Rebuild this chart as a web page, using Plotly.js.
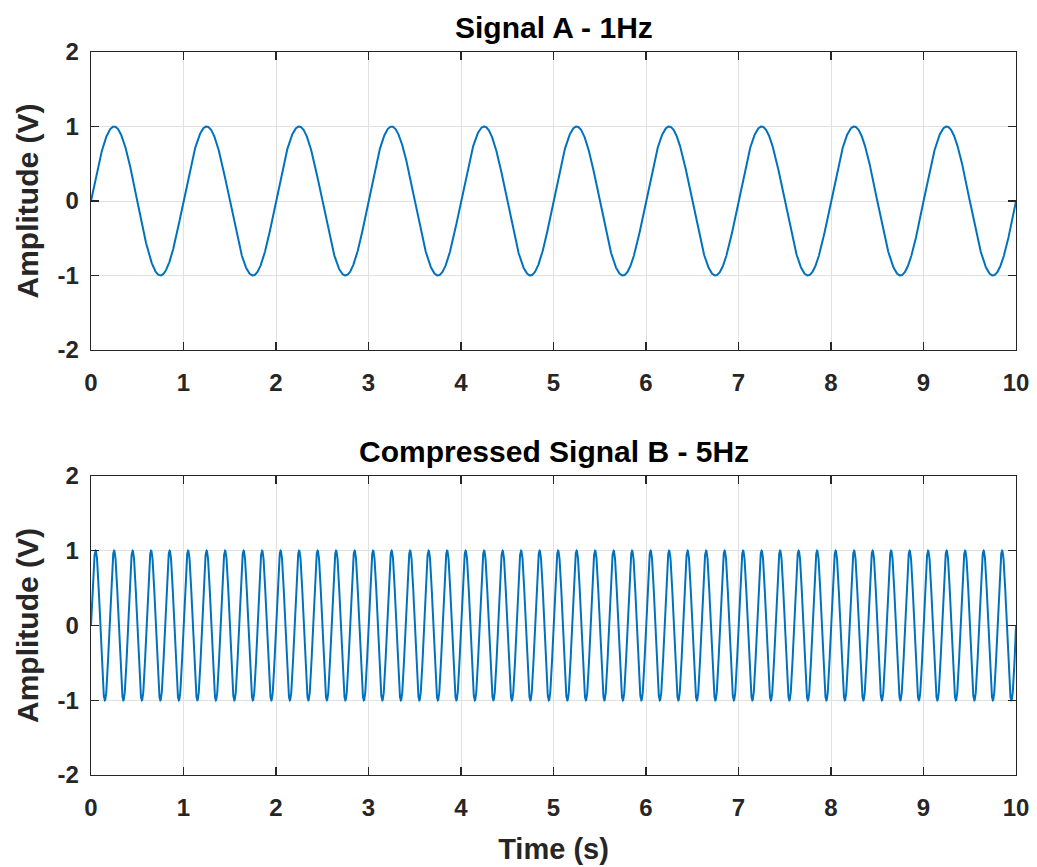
<!DOCTYPE html>
<html>
<head>
<meta charset="utf-8">
<script src="https://cdn.plot.ly/plotly-3.0.1.min.js"></script>
<style>
  html, body { margin: 0; padding: 0; background: #fff; }
  #chart { width: 1037px; height: 867px; }
</style>
</head>
<body>
<div id="chart"></div>
<script>
// Two sine signals sampled over the same time window
const signalTitles = ['Signal A - 1Hz', 'Compressed Signal B - 5Hz'];
const frequenciesHz = [1, 5];
const amplitudesV = [1, 1];
const timeRange = [0, 10];
const sampleStep = 0.002;
const xTickValues = [0, 1, 2, 3, 4, 5, 6, 7, 8, 9, 10];
const yTickValues = [-2, -1, 0, 1, 2];
const yRange = [-2, 2];

const time = [];
for (let t = timeRange[0]; t <= timeRange[1] + 1e-9; t += sampleStep) {
  time.push(+t.toFixed(6));
}

const lineColor = '#0072BD';
const inkColor = '#262626';
const fontFamily = '"Liberation Sans", Arial, Helvetica, sans-serif';

const traces = frequenciesHz.map((f, i) => ({
  type: 'scatter',
  mode: 'lines',
  x: time,
  y: time.map(t => amplitudesV[i] * Math.sin(2 * Math.PI * f * t)),
  line: { color: lineColor, width: 2 },
  xaxis: i === 0 ? 'x' : 'x2',
  yaxis: i === 0 ? 'y' : 'y2',
  hoverinfo: 'skip',
  showlegend: false
}));

function xAxis(domainAnchor, withTitle) {
  const ax = {
    anchor: domainAnchor,
    domain: [0, 1],
    range: timeRange,
    tickvals: xTickValues,
    ticktext: xTickValues.map(String),
    ticks: 'inside',
    ticklen: 8,
    tickwidth: 1.3,
    tickcolor: inkColor,
    showline: true,
    linecolor: inkColor,
    linewidth: 1.3,
    mirror: 'ticks',
    showgrid: true,
    gridcolor: '#e1e1e1',
    gridwidth: 1,
    zeroline: false,
    ticklabelstandoff: 11,
    tickfont: { family: fontFamily, size: 24, color: inkColor, weight: 'bold' }
  };
  if (withTitle) {
    ax.title = {
      text: 'Time (s)',
      standoff: 18,
      font: { family: fontFamily, size: 29, color: inkColor, weight: 'bold' }
    };
  }
  return ax;
}

function yAxis(domainAnchor, domain) {
  return {
    anchor: domainAnchor,
    domain: domain,
    range: yRange,
    tickvals: yTickValues,
    ticktext: yTickValues.map(String),
    ticks: 'inside',
    ticklen: 8,
    tickwidth: 1.3,
    tickcolor: inkColor,
    showline: true,
    linecolor: inkColor,
    linewidth: 1.3,
    mirror: 'ticks',
    showgrid: true,
    gridcolor: '#e1e1e1',
    gridwidth: 1,
    zeroline: false,
    ticklabelstandoff: 6,
    tickfont: { family: fontFamily, size: 24, color: inkColor, weight: 'bold' },
    title: {
      text: 'Amplitude (V)',
      standoff: 10,
      font: { family: fontFamily, size: 30, color: inkColor, weight: 'bold' }
    }
  };
}

const layout = {
  width: 1037,
  height: 867,
  margin: { l: 91, r: 21, t: 52, b: 92 },
  paper_bgcolor: '#ffffff',
  plot_bgcolor: '#ffffff',
  font: { family: fontFamily, color: inkColor },
  xaxis: xAxis('y', false),
  yaxis: yAxis('x', [0.5878, 1]),
  xaxis2: xAxis('y2', true),
  yaxis2: yAxis('x2', [0, 0.4136]),
  annotations: signalTitles.map((txt, i) => ({
    text: txt,
    xref: 'paper',
    yref: i === 0 ? 'y domain' : 'y2 domain',
    x: 0.5,
    y: 1,
    yshift: 6,
    xanchor: 'center',
    yanchor: 'bottom',
    showarrow: false,
    font: { family: fontFamily, size: 30, color: '#000000', weight: 'bold' }
  }))
};

Plotly.newPlot('chart', traces, layout, { staticPlot: true, displayModeBar: false });
</script>
</body>
</html>
